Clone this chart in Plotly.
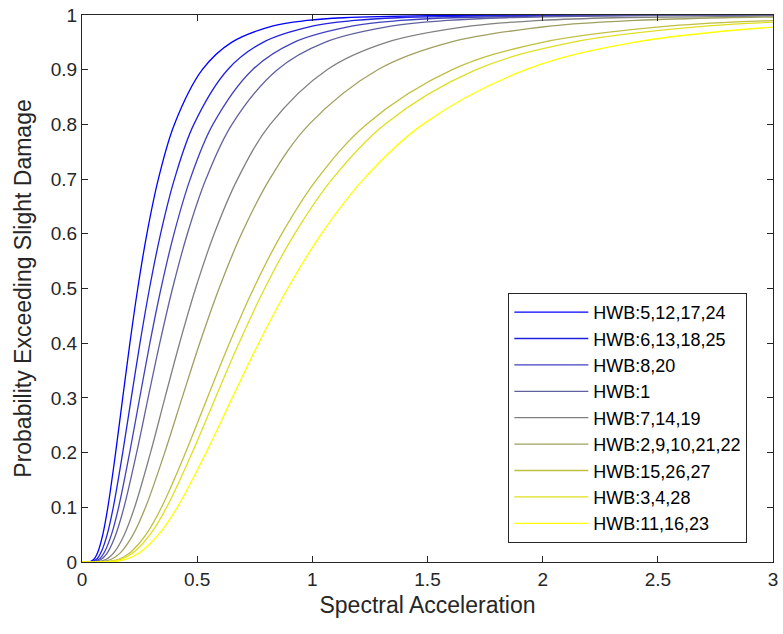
import plotly.graph_objects as go

# Probability levels at which each curve's spectral acceleration was read
p_levels = [0, 0.001, 0.005, 0.01, 0.02, 0.05, 0.1, 0.2, 0.3, 0.4, 0.5, 0.6, 0.7,
            0.8, 0.9, 0.95, 0.98, 0.99, 0.995, 0.999]

labels = ["HWB:5,12,17,24", "HWB:6,13,18,25", "HWB:8,20", "HWB:1", "HWB:7,14,19",
          "HWB:2,9,10,21,22", "HWB:15,26,27", "HWB:3,4,28", "HWB:11,16,23"]

sa_c1 = [0, 0.0379, 0.0516, 0.0599, 0.0706, 0.0902, 0.1122, 0.1460, 0.1767, 0.2079, 0.242,
         0.2817, 0.3314, 0.4010, 0.5222, 0.6493, 0.8298, 0.9772, 1.135, 1.545]
sa_c2 = [0, 0.0459, 0.0625, 0.0726, 0.0854, 0.1092, 0.1358, 0.1768, 0.2139, 0.2517, 0.293,
         0.3411, 0.4013, 0.4855, 0.6323, 0.7861, 1.0047, 1.1831, 1.3742, 1.8711]
sa_c3 = [0, 0.0537, 0.0731, 0.0850, 0.1000, 0.1278, 0.1590, 0.2070, 0.2505, 0.2946, 0.343,
         0.3993, 0.4697, 0.5684, 0.7402, 0.9203, 1.1761, 1.3850, 1.6087, 2.1904]
sa_c4 = [0, 0.0615, 0.0838, 0.0973, 0.1146, 0.1465, 0.1822, 0.2372, 0.2870, 0.3376, 0.393,
         0.4575, 0.5382, 0.6512, 0.8481, 1.0544, 1.3476, 1.5869, 1.8432, 2.5097]
sa_c5 = [0, 0.0772, 0.1051, 0.1221, 0.1438, 0.1837, 0.2285, 0.2975, 0.3600, 0.4235, 0.493,
         0.5739, 0.6752, 0.8169, 1.0639, 1.3227, 1.6905, 1.9907, 2.3122, 3.1483]
sa_c6 = [0, 0.0932, 0.1269, 0.1474, 0.1735, 0.2218, 0.2758, 0.3591, 0.4345, 0.5111, 0.595,
         0.6926, 0.8149, 0.9859, 1.2840, 1.5964, 2.0403, 2.4026, 2.7906, 3.7997]
sa_c7 = [0, 0.1167, 0.1588, 0.1845, 0.2172, 0.2777, 0.3453, 0.4496, 0.5440, 0.6400, 0.745,
         0.8672, 1.0203, 1.2345, 1.6077, 1.9988, 2.5546, 3.0083]
sa_c8 = [0, 0.1242, 0.1691, 0.1964, 0.2312, 0.2955, 0.3676, 0.4786, 0.5790, 0.6812, 0.793,
         0.9231, 1.0860, 1.3140, 1.7113, 2.1276, 2.7192, 3.2021]
sa_c9 = [0, 0.1398, 0.1904, 0.2212, 0.2604, 0.3328, 0.4139, 0.5389, 0.6521, 0.7671, 0.893,
         1.0395, 1.2230, 1.4797, 1.9271, 2.3959, 3.0621]

colors = ["rgb(0,0,255)", "rgb(32,32,223)", "rgb(64,64,191)", "rgb(96,96,159)",
          "rgb(128,128,128)", "rgb(159,159,96)", "rgb(191,191,64)", "rgb(223,223,32)",
          "rgb(255,255,0)"]

x_ticks = [0, 0.5, 1, 1.5, 2, 2.5, 3]
y_ticks = [0, 0.1, 0.2, 0.3, 0.4, 0.5, 0.6, 0.7, 0.8, 0.9, 1]

curves = [sa_c1, sa_c2, sa_c3, sa_c4, sa_c5, sa_c6, sa_c7, sa_c8, sa_c9]
AX = "#262626"
FONT = "Liberation Sans, Arial, sans-serif"

fig = go.Figure()
for i, (sa, lab, col) in enumerate(zip(curves, labels, colors)):
    xs = list(sa)
    ys = list(p_levels[:len(sa)])
    if ys[-1] >= 0.999:
        xs.append(3.0)
        ys.append(1.0)
    fig.add_trace(go.Scatter(x=xs, y=ys, mode="lines", name=lab,
                             line=dict(color=col, width=1.3, shape="spline", smoothing=1.0),
                             legendgroup=f"g{i}"))

axis_common = dict(showline=True, linecolor=AX, linewidth=1, mirror="ticks",
                   ticks="inside", ticklen=6, tickcolor=AX, tickwidth=1,
                   showgrid=False, zeroline=False,
                   tickfont=dict(family=FONT, size=19, color=AX))

fig.update_layout(
    width=783, height=634,
    margin=dict(l=82, r=5, t=13, b=72),
    paper_bgcolor="white", plot_bgcolor="white",
    xaxis=dict(range=[0, 3], tickvals=x_ticks,
               title=dict(text="Spectral Acceleration", font=dict(family=FONT, size=23, color=AX),
                          standoff=8),
               **axis_common),
    yaxis=dict(range=[0, 1], tickvals=y_ticks,
               title=dict(text="Probability Exceeding Slight Damage",
                          font=dict(family=FONT, size=23, color=AX), standoff=12),
               **axis_common),
    legend=dict(x=0.617, y=0.492, xanchor="left", yanchor="top",
                bgcolor="white", bordercolor=AX, borderwidth=1,
                font=dict(family=FONT, size=18, color="black"),
                itemwidth=74,
                tracegroupgap=3.4, traceorder="normal"),
    showlegend=True,
)

fig.write_html("out.html")
